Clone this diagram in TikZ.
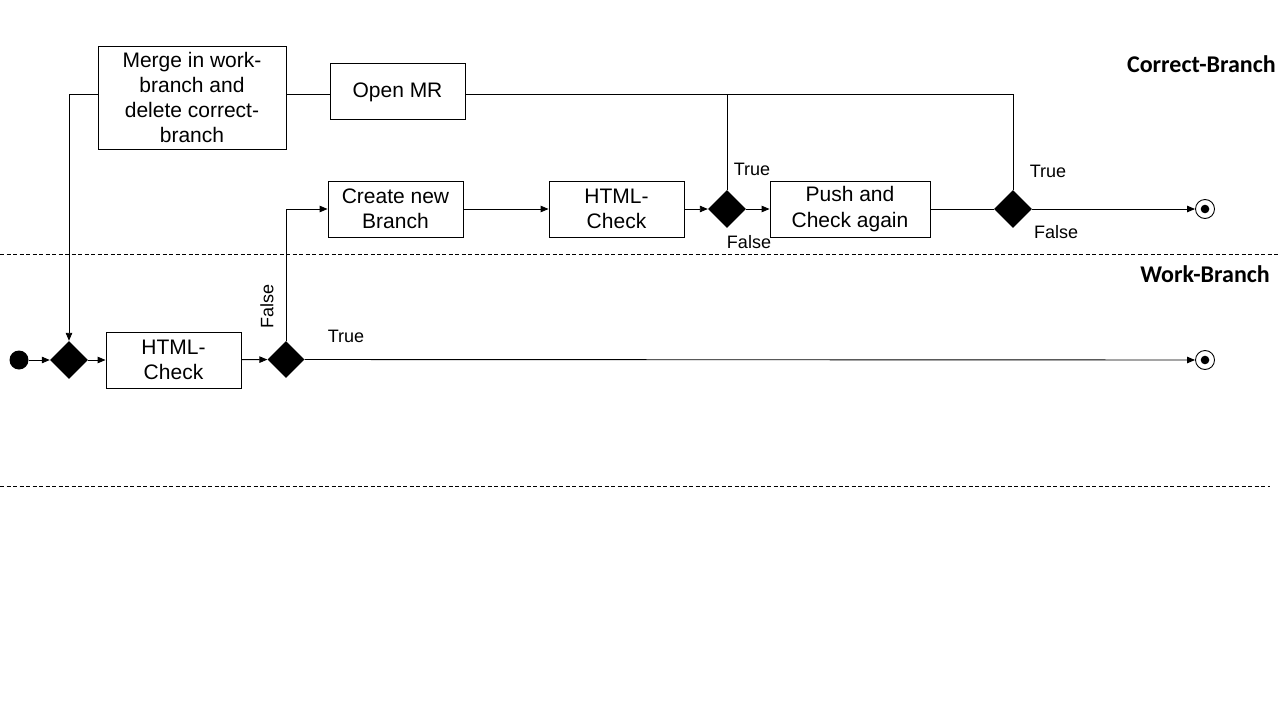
\documentclass[tikz,border=0pt]{standalone}
\usepackage{fontspec}
\setmainfont{Liberation Sans}
\newfontfamily\lanefont{Carlito}
\usetikzlibrary{shapes.geometric,arrows.meta}
\begin{document}
\begin{tikzpicture}[x=1pt,y=-1pt,
  every node/.style={inner sep=0pt},
  line/.style={line width=0.9pt, draw=black},
  arr/.style={line, -{Triangle[length=8pt,width=6.5pt]}},
  act/.style={draw, line width=0.9pt, align=center, font=\fontsize{21}{25.2}\selectfont},
  dec/.style={diamond, fill=black, minimum width=38pt, minimum height=38pt, aspect=1},
  startst/.style={circle, fill=black, minimum size=19pt},
  endst/.style={circle, draw, line width=0.9pt, minimum size=19pt,
     path picture={\fill (path picture bounding box.center) circle (4.3pt);}},
  lbl/.style={font=\fontsize{18}{21}\selectfont},
  lane/.style={font=\lanefont\bfseries\fontsize{24}{28}\selectfont},
  sep/.style={line width=0.8pt, dash pattern=on 4pt off 2.5pt}
]
\useasboundingbox (0,0) rectangle (1280,720);

% lane separators
\draw[sep] (0,254) -- (1280,254);
\draw[sep] (0,486) -- (1270,486);
\node[lane, anchor=east] (lcorrect) at (1276,64) {Correct-Branch};
\node[lane, anchor=east] (lwork) at (1270,274) {Work-Branch};

% nodes
\node[startst] (start) at (19,360) {};
\node[dec] (d1) at (69,360) {};
\node[act, minimum width=135pt, minimum height=56pt] (hc1) at (173.5,360) {HTML-\\Check};
\node[dec, minimum width=37pt, minimum height=37pt] (d2) at (286,359.5) {};
\node[endst] (end2) at (1205,360) {};

\node[act, minimum width=135pt, minimum height=56pt] (cnb) at (395.5,209) {Create new\\Branch};
\node[act, minimum width=135pt, minimum height=56pt] (hc2) at (616.5,209) {HTML-\\Check};
\node[dec] (d3) at (727,209) {};
\node[act, minimum width=160pt, minimum height=56pt] (pca) at (850,209) {Push and\\Check again};
\node[dec] (d4) at (1013,209) {};
\node[endst] (end1) at (1205,209) {};

\node[act, minimum width=135pt, minimum height=56pt, text depth=2pt] (omr) at (397.5,91) {Open MR};
\node[act, minimum width=188pt, minimum height=103pt] (merge) at (192,97.5) {Merge in work-\\branch and\\delete correct-\\branch};

% connectors
\draw[arr] (start) -- (d1);
\draw[arr] (d1) -- (hc1);
\draw[arr] (hc1) -- (d2);
\draw[arr] (d2) -- (end2);
\draw[arr] (d2.north) |- (cnb.west);
\draw[arr] (cnb) -- (hc2);
\draw[arr] (hc2) -- (d3);
\draw[arr] (d3) -- (pca);
\draw[line] (pca) -- (d4);
\draw[arr] (d4) -- (end1);
\coordinate (j3) at (727,94);
\draw[line] (omr.east |- j3) -| (d4.north);
\draw[line] (d3.north) -- (j3);
\draw[line] (omr.west |- j3) -- (merge.east |- j3);
\draw[arr] (merge.west |- j3) -| (d1.north);

% labels
\node[lbl] (t3) at (752,169) {True};
\node[lbl] (f3) at (749,242) {False};
\node[lbl] (t4) at (1048,171) {True};
\node[lbl] (f4) at (1056,232) {False};
\node[lbl, rotate=90] (f2) at (267,306) {False};
\node[lbl] (t2) at (346,336) {True};
\end{tikzpicture}
\end{document}
